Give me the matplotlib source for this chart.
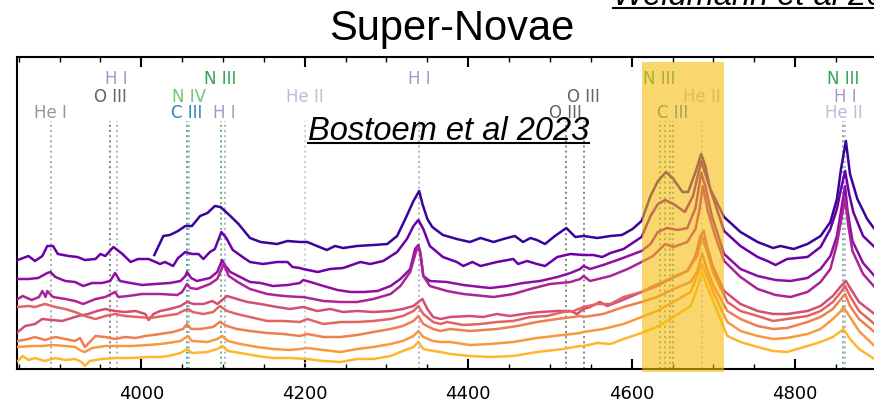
"""
Super-Novae: stacked optical spectra (3850-4900 A) with the main emission
lines marked and the N III / C III / He II 4640-4686 region highlighted.

Output:
    out.png
"""

import matplotlib
import matplotlib.pyplot as plt
from matplotlib.lines import Line2D
from matplotlib.patches import Rectangle
from matplotlib.ticker import MultipleLocator
from matplotlib.transforms import blended_transform_factory


OUTPUT_FIGURE = "out.png"

# spectra, top to bottom (wavelength in Angstrom, offset flux in arbitrary units)
WAVE_1 = [4016, 4027, 4035, 4045, 4054, 4062, 4072, 4081, 4090, 4097,
          4109, 4119, 4133, 4146, 4166, 4179, 4194, 4203, 4215, 4227,
          4237, 4247, 4264, 4284, 4301, 4313, 4323, 4333, 4340, 4344,
          4350, 4356, 4369, 4386, 4402, 4415, 4431, 4443, 4457, 4467,
          4476, 4484, 4494, 4506, 4520, 4531, 4541, 4558, 4574, 4588,
          4601, 4612, 4623, 4632, 4642, 4651, 4662, 4669, 4678, 4685,
          4690, 4696, 4713, 4733, 4754, 4773, 4782, 4798, 4815, 4831,
          4843, 4851, 4856, 4862, 4867, 4876, 4888, 4897]
FLUX_1 = [1.16, 1.35, 1.36, 1.40, 1.45, 1.45, 1.55, 1.58, 1.65, 1.64,
          1.55, 1.47, 1.33, 1.29, 1.27, 1.30, 1.29, 1.29, 1.25, 1.21,
          1.25, 1.23, 1.25, 1.26, 1.27, 1.35, 1.52, 1.70, 1.80, 1.67,
          1.52, 1.44, 1.36, 1.32, 1.29, 1.33, 1.29, 1.32, 1.35, 1.29,
          1.33, 1.31, 1.27, 1.35, 1.43, 1.34, 1.35, 1.33, 1.35, 1.36,
          1.42, 1.50, 1.75, 1.90, 1.99, 1.92, 1.79, 1.79, 1.99, 2.17,
          2.05, 1.82, 1.54, 1.39, 1.29, 1.23, 1.25, 1.22, 1.27, 1.35,
          1.49, 1.72, 2.02, 2.30, 1.97, 1.72, 1.52, 1.42]

WAVE_2 = [3849, 3862, 3870, 3879, 3885, 3892, 3898, 3911, 3922, 3931,
          3944, 3950, 3956, 3966, 3977, 3987, 3996, 4009, 4023, 4029,
          4039, 4045, 4054, 4062, 4070, 4076, 4084, 4090, 4098, 4104,
          4112, 4124, 4133, 4149, 4166, 4179, 4185, 4194, 4198, 4216,
          4231, 4247, 4268, 4280, 4296, 4313, 4325, 4333, 4339, 4345,
          4353, 4369, 4386, 4394, 4405, 4415, 4435, 4455, 4461, 4472,
          4484, 4494, 4509, 4525, 4541, 4553, 4564, 4574, 4590, 4612,
          4623, 4632, 4641, 4651, 4665, 4675, 4685, 4692, 4700, 4713,
          4733, 4754, 4766, 4776, 4790, 4815, 4831, 4843, 4851, 4856,
          4861, 4866, 4871, 4883, 4897]
FLUX_2 = [1.11, 1.15, 1.10, 1.15, 1.25, 1.25, 1.17, 1.15, 1.14, 1.11,
          1.12, 1.17, 1.15, 1.24, 1.17, 1.09, 1.12, 1.12, 1.07, 1.09,
          1.05, 1.13, 1.19, 1.17, 1.17, 1.12, 1.19, 1.22, 1.39, 1.33,
          1.21, 1.14, 1.09, 1.07, 1.09, 1.09, 1.04, 1.03, 1.02, 0.99,
          1.02, 1.03, 1.09, 1.07, 1.10, 1.19, 1.32, 1.45, 1.51, 1.42,
          1.25, 1.14, 1.09, 1.05, 1.09, 1.05, 1.09, 1.12, 1.07, 1.10,
          1.07, 1.05, 1.14, 1.17, 1.16, 1.16, 1.14, 1.18, 1.22, 1.34,
          1.55, 1.67, 1.71, 1.67, 1.59, 1.75, 2.10, 1.92, 1.72, 1.40,
          1.25, 1.14, 1.10, 1.06, 1.12, 1.14, 1.24, 1.42, 1.62, 1.82,
          2.00, 1.77, 1.59, 1.35, 1.24]

WAVE_3 = [3849, 3862, 3874, 3885, 3889, 3895, 3907, 3919, 3929, 3940,
          3952, 3962, 3968, 3974, 3987, 4001, 4017, 4035, 4048, 4054,
          4056, 4061, 4068, 4084, 4093, 4099, 4103, 4109, 4121, 4133,
          4146, 4161, 4179, 4194, 4198, 4207, 4223, 4240, 4256, 4272,
          4289, 4305, 4317, 4329, 4335, 4339, 4341, 4345, 4353, 4374,
          4394, 4415, 4427, 4448, 4467, 4488, 4509, 4525, 4537, 4541,
          4549, 4565, 4586, 4612, 4623, 4632, 4643, 4656, 4668, 4678,
          4685, 4690, 4698, 4713, 4733, 4754, 4776, 4794, 4815, 4831,
          4843, 4851, 4856, 4861, 4864, 4870, 4883, 4897]
FLUX_3 = [0.92, 0.92, 0.93, 0.98, 0.99, 0.94, 0.90, 0.89, 0.85, 0.88,
          0.88, 0.90, 0.98, 0.90, 0.88, 0.86, 0.87, 0.88, 0.90, 0.95,
          0.99, 0.93, 0.90, 0.93, 0.99, 1.11, 1.05, 0.99, 0.94, 0.89,
          0.88, 0.85, 0.86, 0.88, 0.91, 0.89, 0.85, 0.81, 0.79, 0.79,
          0.80, 0.85, 0.92, 1.02, 1.22, 1.26, 1.20, 0.95, 0.90, 0.89,
          0.86, 0.84, 0.83, 0.85, 0.88, 0.90, 0.94, 0.98, 1.02, 1.05,
          1.02, 1.06, 1.12, 1.20, 1.27, 1.39, 1.43, 1.41, 1.43, 1.63,
          1.98, 1.85, 1.55, 1.17, 1.02, 0.95, 0.91, 0.90, 0.93, 1.02,
          1.15, 1.35, 1.60, 1.85, 1.60, 1.30, 1.08, 0.95]

WAVE_4 = [3849, 3855, 3866, 3875, 3879, 3883, 3885, 3892, 3907, 3919,
          3929, 3944, 3956, 3968, 3972, 3984, 4001, 4023, 4044, 4050,
          4056, 4060, 4068, 4084, 4093, 4101, 4107, 4118, 4133, 4154,
          4174, 4194, 4198, 4223, 4244, 4264, 4284, 4305, 4317, 4329,
          4336, 4339, 4342, 4345, 4353, 4374, 4394, 4431, 4455, 4476,
          4500, 4525, 4537, 4541, 4549, 4574, 4595, 4612, 4626, 4641,
          4651, 4668, 4678, 4683, 4687, 4693, 4702, 4713, 4733, 4754,
          4776, 4794, 4815, 4831, 4843, 4851, 4856, 4861, 4865, 4870,
          4883, 4897]
FLUX_4 = [0.72, 0.75, 0.71, 0.74, 0.80, 0.74, 0.80, 0.74, 0.72, 0.70,
          0.67, 0.72, 0.74, 0.79, 0.74, 0.75, 0.77, 0.77, 0.76, 0.79,
          0.87, 0.83, 0.82, 0.87, 0.92, 1.07, 0.95, 0.89, 0.82, 0.77,
          0.75, 0.74, 0.74, 0.70, 0.69, 0.69, 0.72, 0.77, 0.85, 0.99,
          1.19, 1.25, 1.15, 0.95, 0.85, 0.80, 0.77, 0.74, 0.77, 0.82,
          0.87, 0.89, 0.92, 0.95, 0.90, 0.95, 1.02, 1.09, 1.15, 1.27,
          1.24, 1.29, 1.42, 1.62, 1.85, 1.60, 1.35, 1.10, 0.94, 0.82,
          0.76, 0.74, 0.79, 0.89, 1.02, 1.27, 1.50, 1.72, 1.45, 1.20,
          0.97, 0.84]

WAVE_5 = [3849, 3858, 3870, 3879, 3891, 3903, 3911, 3923, 3935, 3946,
          3956, 3968, 3980, 3993, 4005, 4009, 4015, 4023, 4035, 4048,
          4056, 4064, 4076, 4087, 4093, 4105, 4117, 4130, 4146, 4166,
          4182, 4198, 4215, 4231, 4247, 4264, 4284, 4305, 4320, 4333,
          4339, 4344, 4350, 4357, 4366, 4378, 4402, 4418, 4435, 4451,
          4467, 4488, 4509, 4525, 4533, 4541, 4549, 4561, 4570, 4586,
          4612, 4631, 4651, 4668, 4678, 4684, 4688, 4692, 4699, 4713,
          4733, 4754, 4773, 4790, 4815, 4831, 4846, 4856, 4862, 4868,
          4878, 4897]
FLUX_5 = [0.39, 0.45, 0.47, 0.52, 0.51, 0.50, 0.52, 0.55, 0.57, 0.60,
          0.62, 0.60, 0.59, 0.60, 0.57, 0.51, 0.57, 0.60, 0.62, 0.65,
          0.69, 0.67, 0.67, 0.70, 0.67, 0.75, 0.72, 0.69, 0.67, 0.64,
          0.62, 0.64, 0.60, 0.62, 0.59, 0.60, 0.59, 0.60, 0.62, 0.65,
          0.69, 0.72, 0.62, 0.54, 0.52, 0.54, 0.55, 0.54, 0.57, 0.55,
          0.57, 0.59, 0.60, 0.60, 0.57, 0.62, 0.64, 0.69, 0.65, 0.70,
          0.79, 0.85, 0.94, 1.00, 1.15, 1.35, 1.40, 1.25, 1.05, 0.80,
          0.67, 0.60, 0.57, 0.57, 0.60, 0.65, 0.75, 0.85, 0.90, 0.82,
          0.69, 0.57]

WAVE_6 = [3849, 3862, 3870, 3882, 3895, 3907, 3919, 3931, 3944, 3956,
          3968, 3980, 3996, 4011, 4027, 4044, 4051, 4057, 4063, 4076,
          4088, 4096, 4105, 4117, 4133, 4154, 4174, 4194, 4203, 4223,
          4244, 4264, 4284, 4305, 4320, 4333, 4339, 4345, 4357, 4366,
          4374, 4394, 4415, 4435, 4455, 4476, 4496, 4516, 4529, 4541,
          4558, 4574, 4590, 4612, 4626, 4647, 4668, 4680, 4686, 4692,
          4700, 4717, 4733, 4754, 4773, 4790, 4815, 4831, 4846, 4856,
          4861, 4867, 4878, 4897]
FLUX_6 = [0.64, 0.65, 0.64, 0.67, 0.64, 0.62, 0.59, 0.55, 0.52, 0.55,
          0.57, 0.55, 0.54, 0.53, 0.55, 0.57, 0.60, 0.62, 0.59, 0.57,
          0.59, 0.65, 0.60, 0.57, 0.54, 0.50, 0.50, 0.49, 0.52, 0.47,
          0.49, 0.49, 0.50, 0.52, 0.55, 0.60, 0.65, 0.57, 0.49, 0.47,
          0.49, 0.46, 0.47, 0.49, 0.50, 0.54, 0.55, 0.59, 0.60, 0.64,
          0.67, 0.67, 0.74, 0.79, 0.85, 0.92, 1.00, 1.15, 1.34, 1.20,
          0.98, 0.69, 0.60, 0.55, 0.50, 0.52, 0.55, 0.60, 0.69, 0.79,
          0.85, 0.75, 0.60, 0.47]

WAVE_7 = [3849, 3862, 3870, 3882, 3895, 3907, 3919, 3925, 3931, 3937,
          3944, 3956, 3968, 3980, 3993, 4005, 4023, 4039, 4051, 4056,
          4061, 4072, 4088, 4096, 4105, 4117, 4133, 4154, 4174, 4194,
          4203, 4223, 4244, 4264, 4284, 4305, 4320, 4333, 4339, 4345,
          4357, 4366, 4378, 4402, 4435, 4460, 4484, 4509, 4537, 4541,
          4565, 4590, 4612, 4631, 4651, 4672, 4680, 4686, 4692, 4700,
          4717, 4733, 4754, 4773, 4790, 4815, 4831, 4846, 4856, 4861,
          4867, 4878, 4897]
FLUX_7 = [0.30, 0.32, 0.34, 0.31, 0.34, 0.32, 0.30, 0.33, 0.24, 0.29,
          0.35, 0.34, 0.32, 0.34, 0.33, 0.35, 0.37, 0.39, 0.42, 0.47,
          0.42, 0.42, 0.44, 0.49, 0.45, 0.42, 0.40, 0.38, 0.37, 0.35,
          0.37, 0.34, 0.34, 0.36, 0.39, 0.42, 0.45, 0.50, 0.55, 0.47,
          0.42, 0.40, 0.42, 0.40, 0.42, 0.45, 0.49, 0.52, 0.55, 0.54,
          0.57, 0.64, 0.69, 0.74, 0.82, 0.89, 0.99, 1.18, 1.02, 0.85,
          0.60, 0.52, 0.45, 0.42, 0.43, 0.49, 0.54, 0.62, 0.72, 0.77,
          0.65, 0.52, 0.39]

WAVE_8 = [3849, 3866, 3879, 3891, 3907, 3919, 3927, 3931, 3940, 3956,
          3968, 3989, 4009, 4023, 4033, 4048, 4057, 4062, 4081, 4093,
          4099, 4106, 4121, 4142, 4161, 4182, 4194, 4203, 4223, 4244,
          4264, 4284, 4305, 4320, 4333, 4339, 4345, 4357, 4366, 4378,
          4402, 4427, 4455, 4484, 4516, 4537, 4541, 4565, 4590, 4612,
          4631, 4651, 4672, 4680, 4686, 4692, 4700, 4717, 4733, 4754,
          4773, 4790, 4815, 4831, 4846, 4856, 4859, 4867, 4878, 4897]
FLUX_8 = [0.24, 0.25, 0.25, 0.26, 0.25, 0.24, 0.20, 0.19, 0.23, 0.25,
          0.25, 0.25, 0.26, 0.27, 0.28, 0.30, 0.35, 0.30, 0.29, 0.32,
          0.35, 0.30, 0.27, 0.24, 0.22, 0.21, 0.22, 0.23, 0.21, 0.19,
          0.22, 0.24, 0.27, 0.30, 0.35, 0.40, 0.34, 0.30, 0.29, 0.29,
          0.26, 0.27, 0.29, 0.33, 0.36, 0.38, 0.39, 0.42, 0.47, 0.54,
          0.60, 0.69, 0.79, 0.95, 1.07, 0.95, 0.78, 0.49, 0.40, 0.35,
          0.32, 0.33, 0.37, 0.42, 0.52, 0.60, 0.64, 0.54, 0.40, 0.25]

WAVE_9 = [3849, 3855, 3862, 3870, 3882, 3895, 3907, 3919, 3927, 3931,
          3937, 3952, 3968, 3989, 4009, 4023, 4033, 4048, 4056, 4062,
          4081, 4093, 4099, 4106, 4121, 4142, 4161, 4182, 4203, 4223,
          4244, 4264, 4284, 4305, 4320, 4333, 4339, 4345, 4357, 4366,
          4378, 4402, 4427, 4455, 4484, 4516, 4537, 4541, 4558, 4574,
          4590, 4612, 4631, 4651, 4672, 4680, 4686, 4692, 4700, 4717,
          4733, 4754, 4773, 4790, 4815, 4831, 4846, 4856, 4859, 4867,
          4878, 4897]
FLUX_9 = [0.10, 0.15, 0.11, 0.13, 0.10, 0.13, 0.11, 0.12, 0.09, 0.05,
          0.10, 0.12, 0.13, 0.13, 0.14, 0.14, 0.15, 0.18, 0.22, 0.18,
          0.19, 0.22, 0.25, 0.20, 0.18, 0.15, 0.13, 0.13, 0.12, 0.10,
          0.09, 0.12, 0.12, 0.15, 0.20, 0.24, 0.29, 0.22, 0.20, 0.19,
          0.17, 0.15, 0.14, 0.15, 0.19, 0.22, 0.25, 0.25, 0.28, 0.27,
          0.32, 0.38, 0.44, 0.54, 0.65, 0.82, 0.99, 0.85, 0.69, 0.35,
          0.29, 0.24, 0.20, 0.19, 0.25, 0.29, 0.34, 0.40, 0.42, 0.32,
          0.22, 0.12]

SPECTRA = [
    (WAVE_1, FLUX_1), (WAVE_2, FLUX_2), (WAVE_3, FLUX_3),
    (WAVE_4, FLUX_4), (WAVE_5, FLUX_5), (WAVE_6, FLUX_6),
    (WAVE_7, FLUX_7), (WAVE_8, FLUX_8), (WAVE_9, FLUX_9),
]
# position of each spectrum on the plasma colormap
SPECTRUM_SHADES = [0.08, 0.20, 0.30, 0.38, 0.53, 0.60, 0.68, 0.76, 0.84]

# line identifications; row 0 is the top label row
LINE_WAVES = [3889, 3962, 3970, 4058, 4056, 4097, 4102, 4200, 4340,
              4519, 4541, 4634, 4641, 4647, 4650, 4686, 4859, 4861, 4860]
LINE_LABELS = ["He I", "O III", "H I", "N IV", "C III", "N III", "H I",
               "He II", "H I", "O III", "O III", "N III", "", "", "C III",
               "He II", "N III", "H I", "He II"]
LINE_COLORS = ["#969696", "#636363", "#9e9ac8", "#74c476", "#3182bd",
               "#31a354", "#9e9ac8", "#bcbddc", "#9e9ac8", "#636363",
               "#636363", "#31a354", "#31a354", "#3182bd", "#3182bd",
               "#bcbddc", "#31a354", "#9e9ac8", "#bcbddc"]
LINE_ROWS = [2, 1, 0, 1, 2, 0, 2, 1, 0, 2, 1, 0, 0, 2, 2, 1, 0, 1, 2]
LABEL_ROW_FLUX = [2.93, 2.75, 2.59]
LINE_MARK_TOP = 2.50

HIGHLIGHT_RANGE = (4612, 4713)

XLIM = (3848, 4924.5)
YLIM = (0.02, 3.14)


def underline(fig, text, drop_px, lw=1.5):
    """Draw a rule under a figure text, spanning its rendered width."""
    fig.canvas.draw()
    box = text.get_window_extent()
    base_y = fig.transFigure.transform(text.get_position())[1] - drop_px
    (x0, y0), (x1, _) = fig.transFigure.inverted().transform(
        [(box.x0, base_y), (box.x1, base_y)])
    fig.add_artist(Line2D([x0, x1], [y0, y0], transform=fig.transFigure,
                          color="black", lw=lw))


def main():
    fig = plt.figure(figsize=(8.74, 4.06), dpi=100)
    ax = fig.add_axes([17 / 874, 36 / 406, 880 / 874, 312 / 406])

    cmap = matplotlib.colormaps["plasma"]
    for (wave, flux), shade in zip(SPECTRA, SPECTRUM_SHADES):
        ax.plot(wave, flux, color=cmap(shade), lw=1.8, zorder=3)

    for wave, label, color, row in zip(LINE_WAVES, LINE_LABELS, LINE_COLORS, LINE_ROWS):
        ax.vlines(wave, YLIM[0], LINE_MARK_TOP, colors=color, linestyles=":",
                  lw=1.4, alpha=0.8, zorder=2)
        if label:
            ax.text(wave, LABEL_ROW_FLUX[row], label, color=color, fontsize=12,
                    ha="center", va="center", zorder=2)

    # highlighted N III / C III / He II blend region
    trans = blended_transform_factory(ax.transData, ax.transAxes)
    ax.add_patch(Rectangle((HIGHLIGHT_RANGE[0], -0.0096),
                           HIGHLIGHT_RANGE[1] - HIGHLIGHT_RANGE[0], 0.994,
                           transform=trans, facecolor="#f5bb0d", alpha=0.6,
                           edgecolor="none", clip_on=False, zorder=6))

    ax.set_xlim(*XLIM)
    ax.set_ylim(*YLIM)
    ax.xaxis.set_major_locator(MultipleLocator(200))
    ax.xaxis.set_minor_locator(MultipleLocator(50))
    ax.tick_params(axis="x", which="major", direction="in", length=7, width=1.5,
                   top=True, labelsize=13, pad=11)
    ax.tick_params(axis="x", which="minor", direction="in", length=3.5, width=1,
                   top=True)
    ax.set_yticks([])
    for side in ("left", "bottom", "top", "right"):
        ax.spines[side].set_linewidth(1.5)

    fig.text(0.517, 1 - 40 / 406, "Super-Novae", ha="center", va="baseline",
             fontsize=30, family="Liberation Sans")

    ref_now = fig.text(308 / 874, 1 - 140 / 406, "Bostoem et al 2023",
                       ha="left", va="baseline", fontsize=23.5, style="italic",
                       family="Liberation Sans", zorder=7)
    ref_prev = fig.text(613 / 874, 1 - 5 / 406, "Weidmann et al 2020",
                        ha="left", va="baseline", fontsize=23.5, style="italic",
                        family="Liberation Sans")
    underline(fig, ref_now, 4)
    underline(fig, ref_prev, 3.5)

    fig.savefig(OUTPUT_FIGURE, dpi=100)
    plt.close(fig)


if __name__ == "__main__":
    main()
